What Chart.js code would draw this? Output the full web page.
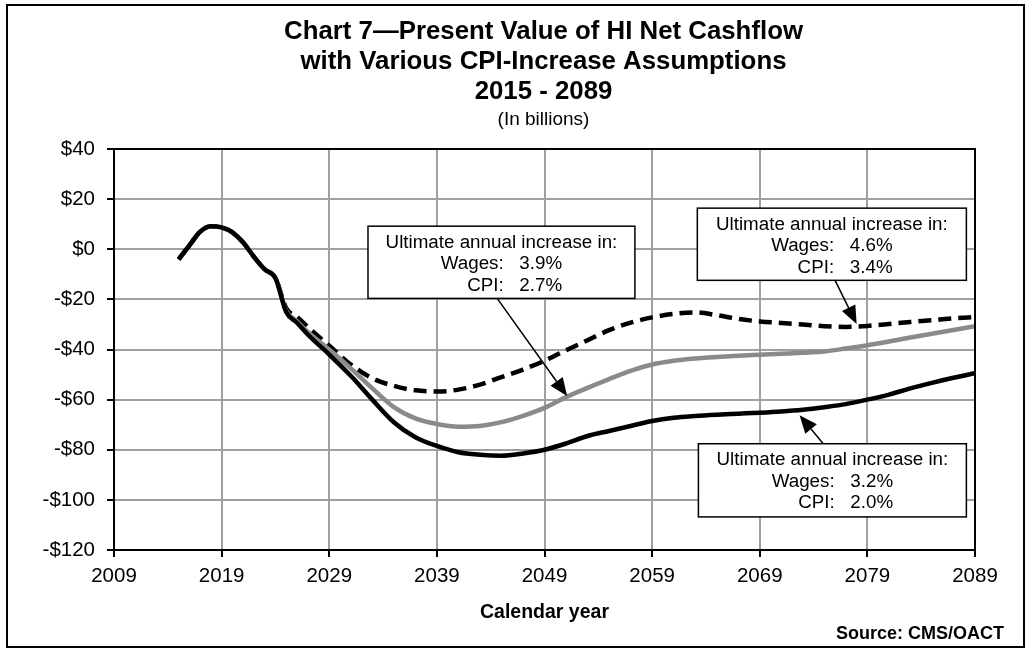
<!DOCTYPE html>
<html>
<head>
<meta charset="utf-8">
<script src="https://cdn.jsdelivr.net/npm/chart.js@4.4.1/dist/chart.umd.min.js"></script>
<style>
  html,body{margin:0;background:#fff}
  #wrap{width:1031px;height:652px}
</style>
</head>
<body>
<div id="wrap"><canvas id="c" width="1031" height="652"></canvas></div>
<script>
/* ---------- data (billions, present value) ---------- */
const years = [2015,2016,2017,2018,2019,2020,2021,2022,2023,2024,2025,2026,2027,
  2029,2031,2033,2035,2037,2039,2041,2043,2045,2047,2049,2051,2053,2055,2057,2059,
  2061,2063,2065,2067,2069,2071,2073,2075,2077,2079,2081,2083,2085,2087,2089];

// ultimate CPI 2.0% (wages 3.2%) - solid black
const cpi20 = [-4,1.5,7,9.2,8.7,6.7,2.7,-3,-8,-11.5,-25,-29.3,-34,
  -42,-50.5,-60,-69,-75,-78.5,-81,-82,-82.4,-81.5,-80,-77.5,-74.5,-72.5,-70.5,-68.5,
  -67.2,-66.5,-66,-65.6,-65.2,-64.7,-64,-63,-61.8,-60,-58,-55.5,-53.3,-51.3,-49.5];

// ultimate CPI 2.7% (wages 3.9%) - gray
const cpi27 = [-4,1.5,7,9.2,8.7,6.7,2.7,-3,-8,-11.5,-24.5,-28.8,-33,
  -40,-47.5,-55.5,-63,-67.5,-69.7,-70.8,-70.5,-69,-66.5,-63.3,-59,-55.3,-51.8,-48.5,-46,
  -44.5,-43.6,-43,-42.5,-42.1,-41.7,-41.3,-40.8,-39.6,-38.3,-36.8,-35.2,-33.7,-32.2,-30.7];

// ultimate CPI 3.4% (wages 4.6%) - dashed black
const cpi34 = [-4,1.5,7,9.2,8.7,6.7,2.7,-3,-8,-11.5,-23.5,-27,-31,
  -38.5,-46,-51.5,-54.5,-56.3,-56.8,-56,-54,-51,-48,-44.5,-40.3,-36.3,-32.3,-29.3,-27.2,
  -25.8,-25.2,-26.3,-27.8,-28.8,-29.4,-30,-30.7,-31,-30.6,-29.8,-29,-28.3,-27.6,-27];

const TITLE = ['Chart 7\u2014Present Value of HI Net Cashflow',
               'with Various CPI-Increase Assumptions',
               '2015 - 2089'];
const SUBTITLE = '(In billions)';
const X_TITLE = 'Calendar year';
const SOURCE = 'Source: CMS/OACT';

const noteWages = ['3.9%','4.6%','3.2%'];
const noteCpi   = ['2.7%','3.4%','2.0%'];

/* ---------- callout layout, in axis units ---------- */
const callouts = [
  { box:[2032.6,2057.4, 9.2,-19.6],   from:[2044.6,-19.6], to:[2051.1,-58.6] },
  { box:[2063.2,2088.2,16.4,-12.4],   from:[2076.0,-12.4], to:[2078.0,-29.8] },
  { box:[2063.3,2088.2,-77.6,-106.8], from:[2074.9,-77.6], to:[2072.7,-66.2] }
];

const FONT = "'Liberation Sans', Arial, Helvetica, sans-serif";

function pts(vals){ return years.map((yr,i)=>({x:yr, y:vals[i]})); }
function money(v){ return (v<0?'-$':'$') + Math.abs(v); }

function drawCallout(ctx, xs, ys, c, wages, cpi){
  const l = xs.getPixelForValue(c.box[0]), r = xs.getPixelForValue(c.box[1]);
  const t = ys.getPixelForValue(c.box[2]), b = ys.getPixelForValue(c.box[3]);
  const x0 = xs.getPixelForValue(c.from[0]), y0 = ys.getPixelForValue(c.from[1]);
  const x1 = xs.getPixelForValue(c.to[0]),   y1 = ys.getPixelForValue(c.to[1]);

  // arrow
  const ang = Math.atan2(y1-y0, x1-x0), head = 18, hw = 7.5;
  const bx = x1 - Math.cos(ang)*head, by = y1 - Math.sin(ang)*head;
  ctx.strokeStyle = '#000'; ctx.fillStyle = '#000'; ctx.lineWidth = 1.5;
  ctx.beginPath(); ctx.moveTo(x0,y0); ctx.lineTo(bx,by); ctx.stroke();
  ctx.beginPath();
  ctx.moveTo(x1,y1);
  ctx.lineTo(bx + Math.sin(ang)*hw, by - Math.cos(ang)*hw);
  ctx.lineTo(bx - Math.sin(ang)*hw, by + Math.cos(ang)*hw);
  ctx.closePath(); ctx.fill();

  // box
  ctx.fillStyle = '#fff';
  ctx.fillRect(l, t, r-l, b-t);
  ctx.lineWidth = 1.5;
  ctx.strokeRect(l, t, r-l, b-t);

  // text
  const cx = (l+r)/2;
  ctx.fillStyle = '#000';
  ctx.font = '18.8px ' + FONT;
  ctx.textBaseline = 'middle';
  ctx.textAlign = 'center';
  ctx.fillText('Ultimate annual increase in:', cx, t+16.5);
  const l2 = 'Wages:   ' + wages;
  ctx.fillText(l2, cx, t+38);
  const right = cx + ctx.measureText(l2).width/2;
  ctx.textAlign = 'right';
  ctx.fillText('CPI:   ' + cpi, right, t+59.5);
}

const decor = {
  id:'decor',
  afterDraw(chart){
    const {ctx, chartArea:a, scales:{x, y}} = chart;
    ctx.save();
    ctx.strokeStyle = '#000';
    ctx.lineWidth = 2;
    ctx.strokeRect(a.left, a.top, a.right-a.left, a.bottom-a.top);
    ctx.strokeRect(7, 5, 1017, 642);

    const cx = (a.left + a.right)/2 - 1;
    ctx.fillStyle = '#000';
    ctx.textAlign = 'center';
    ctx.textBaseline = 'middle';
    ctx.font = 'bold 25.8px ' + FONT;
    TITLE.forEach((t,i)=> ctx.fillText(t, cx, 32 + i*30));
    ctx.font = '19px ' + FONT;
    ctx.fillText(SUBTITLE, cx, 120);
    ctx.font = 'bold 18px ' + FONT;
    ctx.textAlign = 'right';
    ctx.fillText(SOURCE, 1004, 634);

    callouts.forEach((c,i)=> drawCallout(ctx, x, y, c, noteWages[i], noteCpi[i]));
    ctx.restore();
  }
};

new Chart(document.getElementById('c'), {
  type:'line',
  data:{ datasets:[
    { label:'CPI 2.0%', data:pts(cpi20), borderColor:'#000', borderWidth:4.5 },
    { label:'CPI 2.7%', data:pts(cpi27), borderColor:'#8a8a8a', borderWidth:4.5 },
    { label:'CPI 3.4%', data:pts(cpi34), borderColor:'#000', borderWidth:4.5, borderDash:[13,7] }
  ]},
  options:{
    responsive:false, animation:false,
    devicePixelRatio:1,
    layout:{ padding:{ left:0, top:149, right:56, bottom:0 } },
    elements:{ point:{ radius:0 }, line:{ cubicInterpolationMode:'monotone', fill:false } },
    plugins:{ legend:{ display:false }, tooltip:{ enabled:false } },
    scales:{
      x:{
        type:'linear', min:2009, max:2089,
        afterFit:(s)=>{ s.height = 102; },
        ticks:{ stepSize:10, color:'#000', padding:7, maxRotation:0,
                font:{ family:FONT, size:20.5 }, callback:(v)=> String(v) },
        grid:{ color:'#a0a0a0', lineWidth:2, tickLength:7, tickColor:'#000', tickWidth:2 },
        border:{ color:'#000', width:2 },
        title:{ display:true, text:X_TITLE, color:'#000',
                font:{ family:FONT, size:19.5, weight:'bold' }, padding:{ top:0, bottom:28 } }
      },
      y:{
        min:-120, max:40,
        afterFit:(s)=>{ s.width = 114; },
        ticks:{ stepSize:20, color:'#000', padding:12,
                font:{ family:FONT, size:20.5 }, callback:(v)=> money(v) },
        grid:{ color:'#a0a0a0', lineWidth:2, tickLength:7, tickColor:'#000', tickWidth:2 },
        border:{ color:'#000', width:2 }
      }
    }
  },
  plugins:[decor]
});
</script>
</body>
</html>
